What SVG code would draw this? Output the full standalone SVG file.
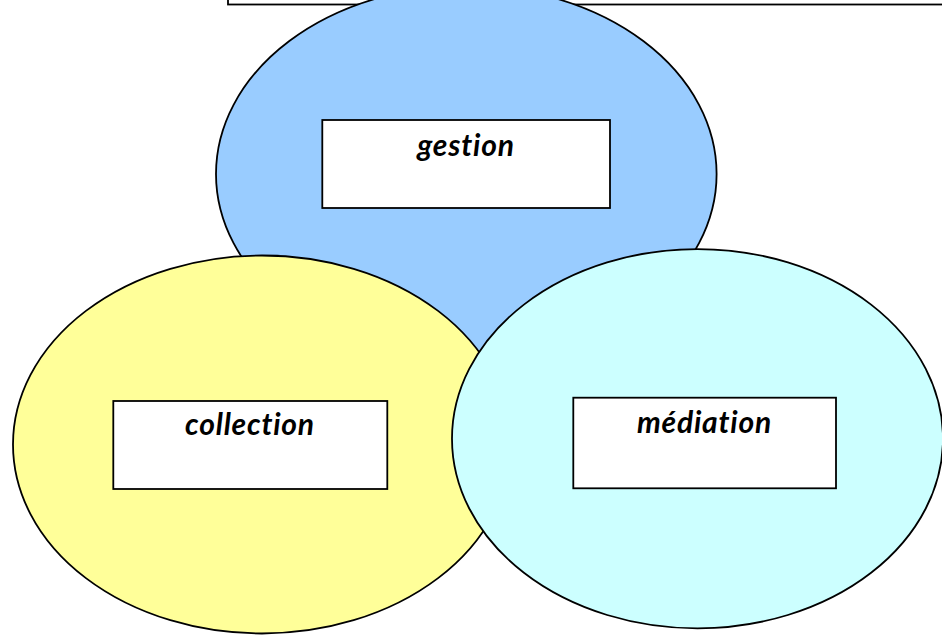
<svg xmlns="http://www.w3.org/2000/svg" width="942" height="637" viewBox="0 0 942 637">
<style>
.el{stroke:#000;stroke-width:1.8}
.box{fill:#fff;stroke:#000;stroke-width:1.8}
.lbl{font-family:Lato,"Open Sans","Liberation Sans",sans-serif;font-weight:bold;font-style:italic;font-size:30px;letter-spacing:0.8px;font-variant-ligatures:none;font-feature-settings:"liga" 0;text-anchor:middle;fill:#000}
</style>
<rect width="942" height="637" fill="#fff"/>
<g id="top-frame"><rect x="228" y="-10" width="730" height="14.5" fill="#fff" stroke="#000" stroke-width="1.8"/></g>
<g id="gestion">
<ellipse class="el" cx="466.3" cy="174" rx="250.3" ry="188" fill="#99CCFF"/>
</g>
<g id="collection">
<ellipse class="el" cx="262" cy="444.5" rx="249" ry="189" fill="#FFFF99"/>
</g>
<g id="mediation">
<ellipse class="el" cx="697.5" cy="438.7" rx="245.5" ry="189.6" fill="#CCFFFF"/>
</g>
<g id="gestion-label">
<rect class="box" x="322.3" y="120" width="287.7" height="88"/>
<text class="lbl" x="466" y="156">gestion</text>
</g>
<g id="collection-label">
<rect class="box" x="113.3" y="401" width="274" height="88"/>
<text class="lbl" x="250" y="435">collection</text>
</g>
<g id="mediation-label">
<rect class="box" x="573.3" y="397.7" width="262.7" height="90.6"/>
<text class="lbl" x="704.5" y="432.7">médiation</text>
</g>
<g id="connectors"/>
</svg>
